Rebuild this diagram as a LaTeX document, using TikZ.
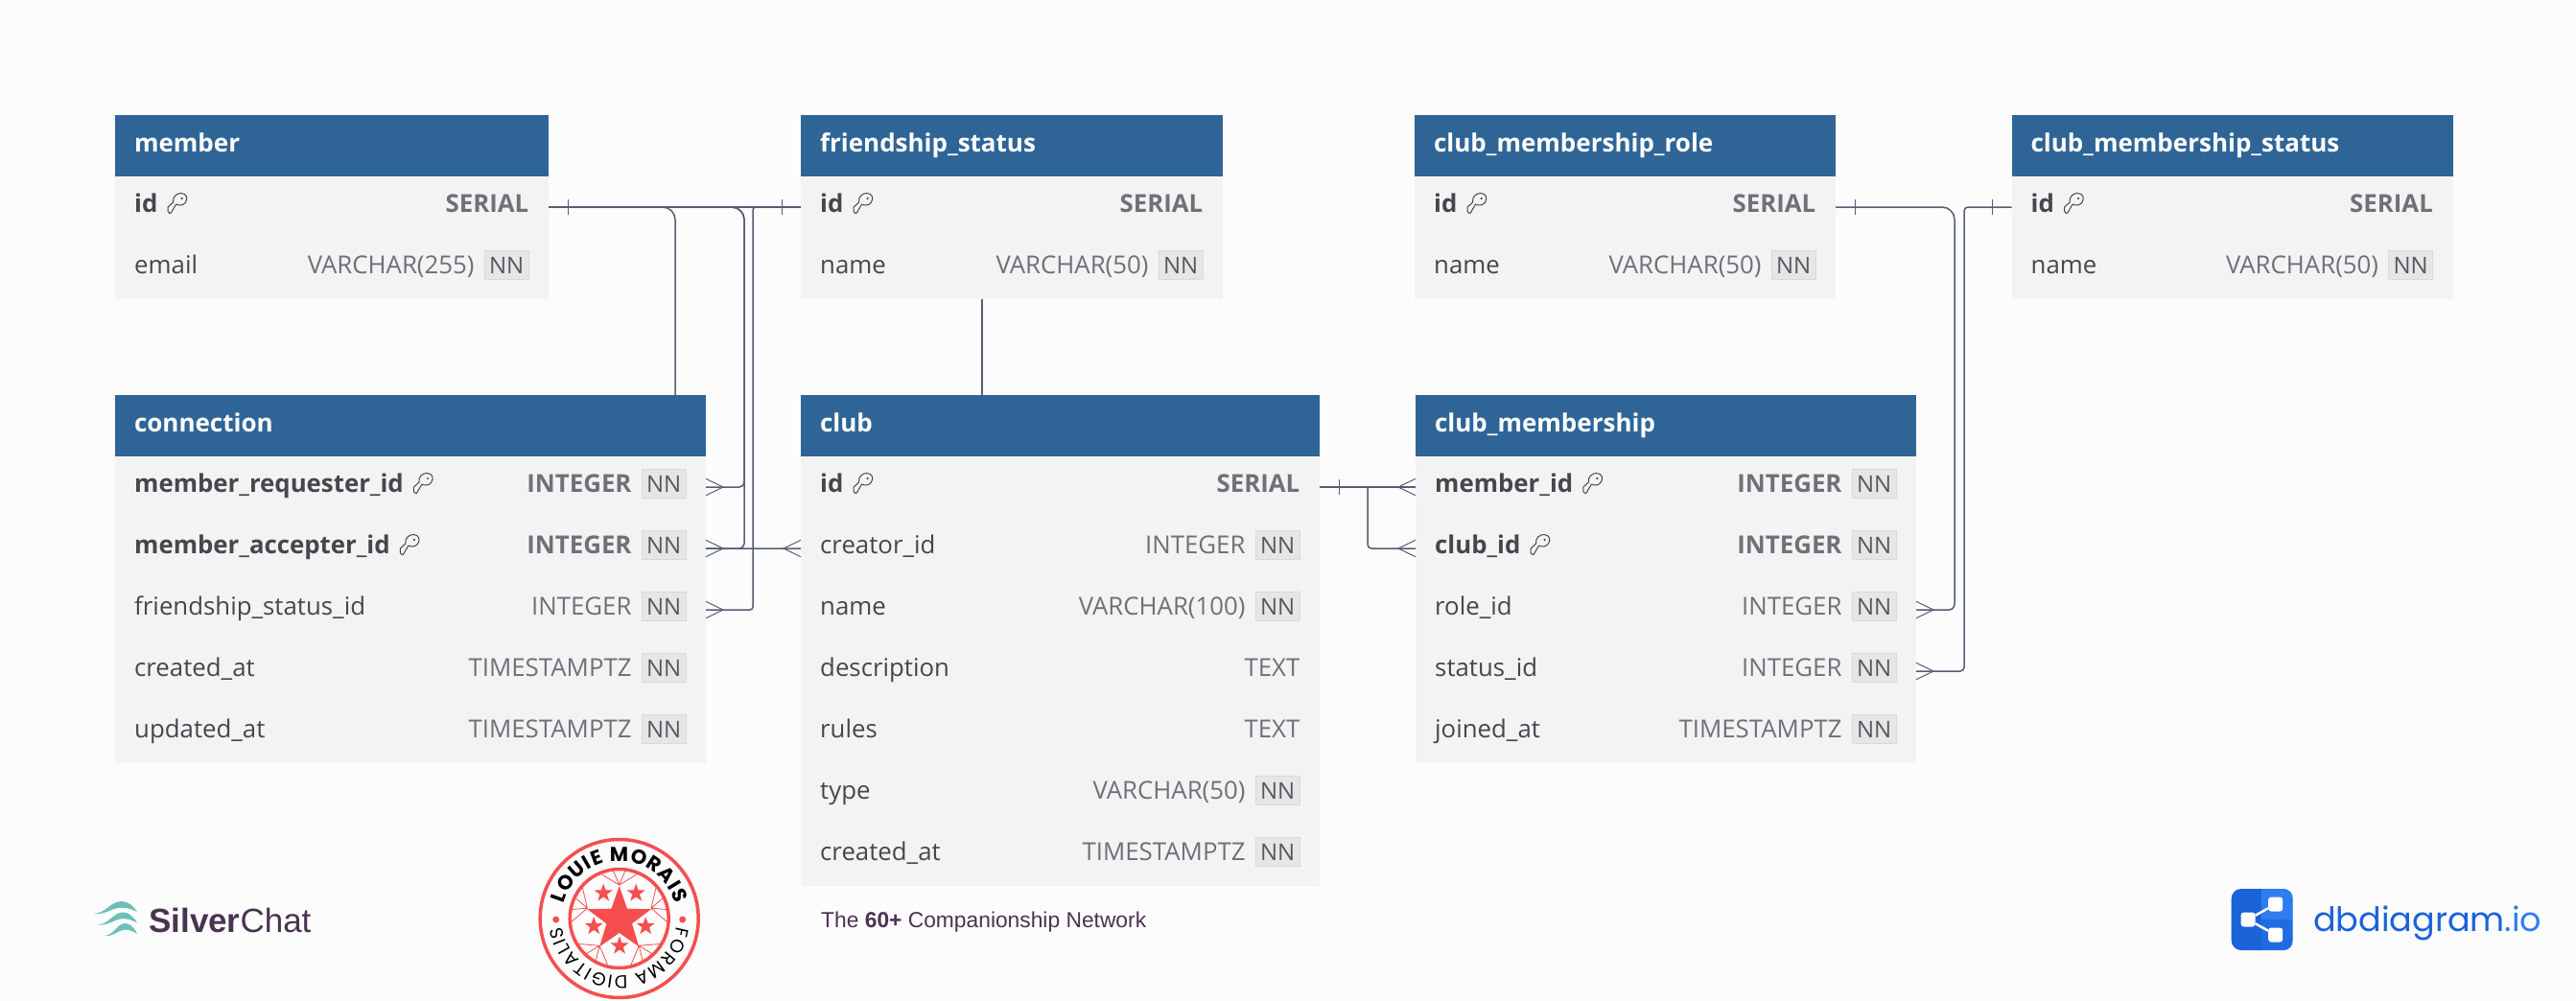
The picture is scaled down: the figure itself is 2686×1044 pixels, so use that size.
\documentclass[tikz,border=0pt]{standalone}
\usepackage{fontspec}
\usetikzlibrary{positioning,backgrounds,shapes.geometric,decorations.text}
\setmainfont{Open Sans}
\newfontfamily\tagfont{Liberation Sans}
\newfontfamily\logofont{Poppins}
\definecolor{pagebg}{HTML}{FCFCFC}
\definecolor{headblue}{HTML}{2F6596}
\definecolor{rowgray}{HTML}{F3F3F3}
\definecolor{nnfill}{HTML}{E6E6E6}
\definecolor{nnedge}{HTML}{D9D9D9}
\definecolor{fieldink}{HTML}{46464E}
\definecolor{typeink}{HTML}{6E7179}
\definecolor{nnink}{HTML}{55585F}
\definecolor{linkink}{HTML}{565E72}
\definecolor{plum}{HTML}{4A3350}
\definecolor{wave}{HTML}{6CC0B8}
\definecolor{stampred}{HTML}{F64E4E}
\definecolor{dbblue}{HTML}{1A63D8}
\definecolor{dblight}{HTML}{2F7DF0}
\definecolor{dbmid}{HTML}{1F6CE2}

\tikzset{
  dbhead/.style={fill=headblue,text=white,anchor=north west,minimum height=64pt,inner sep=0pt,outer sep=0pt,align=left,
    text height=18pt,text depth=6pt,font=\fontsize{26}{30}\selectfont\bfseries},
  rowbox/.style={fill=rowgray,minimum height=64pt,inner sep=0pt,outer sep=0pt},
  fieldname/.style={inner sep=0pt,text=fieldink,font=\fontsize{25.8}{30}\selectfont},
  fieldtype/.style={inner sep=0pt,text=typeink,font=\fontsize{25.8}{30}\selectfont},
  keyfield/.style={font=\fontsize{25.8}{30}\selectfont\bfseries},
  nnbox/.style={fill=nnfill,draw=nnedge,line width=0.8pt,text=nnink,inner sep=0pt,minimum width=46pt,minimum height=30pt,
    font=\fontsize{24}{28}\selectfont},
  link/.style={draw=linkink,line width=1.5pt},
  thinlink/.style={draw=linkink,line width=1pt},
  crow/.pic={\draw[thinlink] (0,-8.7) -- (18,0) -- (0,8.7);},
  bar/.pic={\draw[thinlink] (20,-8) -- (20,8);},
  dbkey/.pic={
    \draw[fieldink,line width=1pt,line join=round] (12,1.3) -- (10.5,-0.5) -- (10.5,-5) -- (16,-10)
      .. controls (15,-16) and (20,-19.5) .. (24,-19.5) .. controls (30,-19.5) and (32,-14) .. (28.5,-9.5)
      .. controls (26,-6.5) and (22,-6.5) .. (19,-8) -- (13.5,1.3) -- cycle;
    \fill[fieldink] (25,-14) circle (1.2pt);
  },
  surf/.pic={\fill[wave] (-45,1) .. controls (-32,0) and (-28,-12) .. (-16,-12) .. controls (-9,-12) and (-3,-6) .. (0,-1)
      .. controls (-8,-5) and (-14,-6) .. (-20,-5) .. controls (-27,-4) and (-34,2) .. (-45,1) -- cycle;},
  stampstar/.style={star,star points=5,star point ratio=2.5,fill=stampred,inner sep=0pt,minimum size=#1},
}

% one column of a table; the last argument is NN or empty
\newcommand{\dbrow}[7][]{
  \node[rowbox,minimum width=#4,below=0pt of #3] (#2) {};
  \node[fieldname,#1,anchor=base west,xshift=20pt,yshift=-5pt] (#2-name) at (#2.west) {#5};
  \if\relax\detokenize{#7}\relax
    \node[fieldtype,#1,anchor=base east,xshift=-20.5pt,yshift=-5pt] (#2-type) at (#2.east) {#6};
  \else
    \node[nnbox,anchor=base east,xshift=-20.5pt,yshift=-5pt] (#2-nn) at (#2.east) {#7};
    \node[fieldtype,#1,anchor=base east,xshift=-10pt] (#2-type) at (#2-nn.base west) {#6};
  \fi
}
\newcommand{\keyrow}[6]{
  \dbrow[keyfield]{#1}{#2}{#3}{#4}{#5}{#6}
  \pic at (#1-name.base east) {dbkey};
}

\begin{document}
\begin{tikzpicture}[x=1pt,y=-1pt]
\useasboundingbox (0,0) rectangle (2686,1044);

% member
\node[dbhead,minimum width=452pt,text width=412pt,inner xsep=20pt] (member) at (120,120) {member};
\keyrow{member-id}{member}{452pt}{id}{SERIAL}{}
\dbrow{member-email}{member-id}{452pt}{email}{VARCHAR(255)}{NN}

% friendship_status
\node[dbhead,minimum width=440pt,text width=400pt,inner xsep=20pt] (friendship) at (835,120) {friendship\_status};
\keyrow{friendship-id}{friendship}{440pt}{id}{SERIAL}{}
\dbrow{friendship-name}{friendship-id}{440pt}{name}{VARCHAR(50)}{NN}

% club_membership_role
\node[dbhead,minimum width=439pt,text width=399pt,inner xsep=20pt] (role) at (1475,120) {club\_membership\_role};
\keyrow{role-id}{role}{439pt}{id}{SERIAL}{}
\dbrow{role-name}{role-id}{439pt}{name}{VARCHAR(50)}{NN}

% club_membership_status
\node[dbhead,minimum width=460pt,text width=420pt,inner xsep=20pt] (status) at (2097.5,120) {club\_membership\_status};
\keyrow{status-id}{status}{460pt}{id}{SERIAL}{}
\dbrow{status-name}{status-id}{460pt}{name}{VARCHAR(50)}{NN}

% connection
\node[dbhead,minimum width=616pt,text width=576pt,inner xsep=20pt] (connection) at (120,412) {connection};
\keyrow{conn-requester}{connection}{616pt}{member\_requester\_id}{INTEGER}{NN}
\keyrow{conn-accepter}{conn-requester}{616pt}{member\_accepter\_id}{INTEGER}{NN}
\dbrow{conn-status}{conn-accepter}{616pt}{friendship\_status\_id}{INTEGER}{NN}
\dbrow{conn-created}{conn-status}{616pt}{created\_at}{TIMESTAMPTZ}{NN}
\dbrow{conn-updated}{conn-created}{616pt}{updated\_at}{TIMESTAMPTZ}{NN}

% club
\node[dbhead,minimum width=541pt,text width=501pt,inner xsep=20pt] (club) at (835,412) {club};
\keyrow{club-id}{club}{541pt}{id}{SERIAL}{}
\dbrow{club-creator}{club-id}{541pt}{creator\_id}{INTEGER}{NN}
\dbrow{club-name}{club-creator}{541pt}{name}{VARCHAR(100)}{NN}
\dbrow{club-description}{club-name}{541pt}{description}{TEXT}{}
\dbrow{club-rules}{club-description}{541pt}{rules}{TEXT}{}
\dbrow{club-type}{club-rules}{541pt}{type}{VARCHAR(50)}{NN}
\dbrow{club-created}{club-type}{541pt}{created\_at}{TIMESTAMPTZ}{NN}

% club_membership
\node[dbhead,minimum width=522pt,text width=482pt,inner xsep=20pt] (membership) at (1476,412) {club\_membership};
\keyrow{ms-member}{membership}{522pt}{member\_id}{INTEGER}{NN}
\keyrow{ms-club}{ms-member}{522pt}{club\_id}{INTEGER}{NN}
\dbrow{ms-role}{ms-club}{522pt}{role\_id}{INTEGER}{NN}
\dbrow{ms-status}{ms-role}{522pt}{status\_id}{INTEGER}{NN}
\dbrow{ms-joined}{ms-status}{522pt}{joined\_at}{TIMESTAMPTZ}{NN}

% where the connectors run up and down
\coordinate (laneCreator) at (704,0);
\coordinate (laneMember) at (776,0);
\coordinate (laneFriend) at (785,0);
\coordinate (laneClub) at (1024,0);
\coordinate (laneOwner) at (1426,0);
\coordinate (laneRole) at (2038,0);
\coordinate (laneStatus) at (2048,0);

\begin{pgfonlayer}{background}
\fill[pagebg] (0,0) rectangle (2686,1044);
\draw[link] (member-id.east) -- (friendship-id.west);
\draw[link,rounded corners=13pt] (member-id.east) -- (member-id.east -| laneCreator)
  [rounded corners=5pt] -- (conn-accepter.east -| laneCreator) -- (club-creator.west);
\draw[link,rounded corners=13pt] (member-id.east) -- (member-id.east -| laneMember)
  [rounded corners=5pt] -- (conn-requester.east -| laneMember) -- (conn-requester.east);
\draw[link,rounded corners=13pt] (member-id.east) -- (member-id.east -| laneMember)
  [rounded corners=5pt] -- (conn-accepter.east -| laneMember) -- (conn-accepter.east);
\draw[link,rounded corners=3pt] (friendship-id.west) -- (friendship-id.west -| laneFriend)
  -- (conn-status.east -| laneFriend) -- (conn-status.east);
\draw[link] (friendship-name.south -| laneClub) -- (club.north -| laneClub);
\draw[link] (club-id.east) -- (ms-member.west);
\draw[link,rounded corners=4pt] (club-id.east -| laneOwner) -- (ms-club.west -| laneOwner) -- (ms-club.west);
\draw[link,rounded corners=13pt] (role-id.east) -- (role-id.east -| laneRole)
  [rounded corners=6pt] -- (ms-role.east -| laneRole) -- (ms-role.east);
\draw[link,rounded corners=4pt] (status-id.west) -- (status-id.west -| laneStatus)
  -- (ms-status.east -| laneStatus) -- (ms-status.east);
\end{pgfonlayer}

\pic at (member-id.east) {bar};
\pic[xscale=-1] at (friendship-id.west) {bar};
\pic at (role-id.east) {bar};
\pic[xscale=-1] at (status-id.west) {bar};
\pic at (club-id.east) {bar};
\pic at (conn-requester.east) {crow};
\pic at (conn-accepter.east) {crow};
\pic at (conn-status.east) {crow};
\pic[xscale=-1] at (club-creator.west) {crow};
\pic[xscale=-1] at (ms-member.west) {crow};
\pic[xscale=-1] at (ms-club.west) {crow};
\pic at (ms-role.east) {crow};
\pic at (ms-status.east) {crow};

% SilverChat
\pic at (143,952) {surf};
\pic[xscale=0.9] at (143,963.5) {surf};
\pic[xscale=0.75] at (143,975) {surf};
\node[anchor=base west,inner sep=0pt,text=plum,font=\tagfont\fontsize{35}{40}\selectfont] (silverchat) at (155,972)
  {\textbf{Silver}Chat};

% tagline
\node[anchor=base west,inner sep=0pt,text=plum,font=\tagfont\fontsize{22.8}{28}\selectfont] (tagline) at (856,967)
  {The \textbf{60+} Companionship Network};

% stamp
\begin{scope}[shift={(645.7,958)},y=1pt]
\node[circle,draw=stampred,line width=3.5pt,inner sep=0pt,minimum size=165pt] (stampouter) at (0,0) {};
\node[circle,draw=stampred,line width=3.5pt,inner sep=0pt,minimum size=103pt] (stampinner) at (0,0) {};
\draw[stampred,line width=0.8pt]
  (90:35pt) -- (68:50pt) (90:35pt) -- (83:50pt) (90:35pt) -- (97:50pt) (90:35pt) -- (112:50pt)
  (162:35pt) -- (140:50pt) (162:35pt) -- (155:50pt) (162:35pt) -- (169:50pt) (162:35pt) -- (184:50pt)
  (234:35pt) -- (212:50pt) (234:35pt) -- (227:50pt) (234:35pt) -- (241:50pt) (234:35pt) -- (256:50pt)
  (306:35pt) -- (284:50pt) (306:35pt) -- (299:50pt) (306:35pt) -- (313:50pt) (306:35pt) -- (328:50pt)
  (18:35pt) -- (-4:50pt) (18:35pt) -- (11:50pt) (18:35pt) -- (25:50pt) (18:35pt) -- (40:50pt);
\node[stampstar=70pt] (stampbig) at (0,-1) {};
\node[stampstar=20pt] (stampa) at (-16.5,26.5) {};
\node[stampstar=20pt] (stampb) at (17.5,26.5) {};
\node[stampstar=20pt] (stampc) at (-26.5,-8) {};
\node[stampstar=20pt] (stampd) at (27.5,-8) {};
\node[stampstar=20pt] (stampe) at (0.3,-28.5) {};
\fill[stampred] (-66,-1) circle (3.5pt) (66,-1) circle (3.5pt);
\path[decorate,decoration={text along path,text align={fit to path},
  text={|\logofont\fontsize{21}{25}\selectfont\bfseries|LOUIE MORAIS}}]
  (165:60pt) arc[start angle=165,end angle=15,radius=60pt];
\path[decorate,decoration={text along path,text align={fit to path},
  text={|\logofont\fontsize{19}{23}\selectfont|FORMA DIGITALIS}}]
  (-8:60pt) arc[start angle=-8,end angle=-172,radius=60pt];
\end{scope}

% dbdiagram.io
\node[rounded corners=10pt,fill=dbblue,inner sep=0pt,minimum size=64pt] (dblogo) at (2358.7,959) {};
\begin{scope}
\clip[rounded corners=10pt] (2326.7,927) rectangle (2390.7,991);
\fill[dblight] (2358,927) rectangle (2391,959);
\fill[dbmid] (2358,959) rectangle (2391,991);
\end{scope}
\node[fill=white,rounded corners=3pt,inner sep=0pt,minimum size=15pt] (dbleft) at (2344,959) {};
\node[fill=white,rounded corners=3pt,inner sep=0pt,minimum size=15pt] (dbtop) at (2372.7,943) {};
\node[fill=white,rounded corners=3pt,inner sep=0pt,minimum size=15pt] (dbbottom) at (2372.7,975) {};
\draw[white,line width=2.5pt] (dbleft) -- (dbtop);
\draw[white,line width=2.5pt] (dbleft) -- (dbbottom);
\node[anchor=base west,inner sep=0pt,text=dbblue,font=\logofont\fontsize{35}{40}\selectfont] (dbname) at (2412,971.7)
  {dbdiagram\textcolor{dblight}{.io}};
\end{tikzpicture}
\end{document}
